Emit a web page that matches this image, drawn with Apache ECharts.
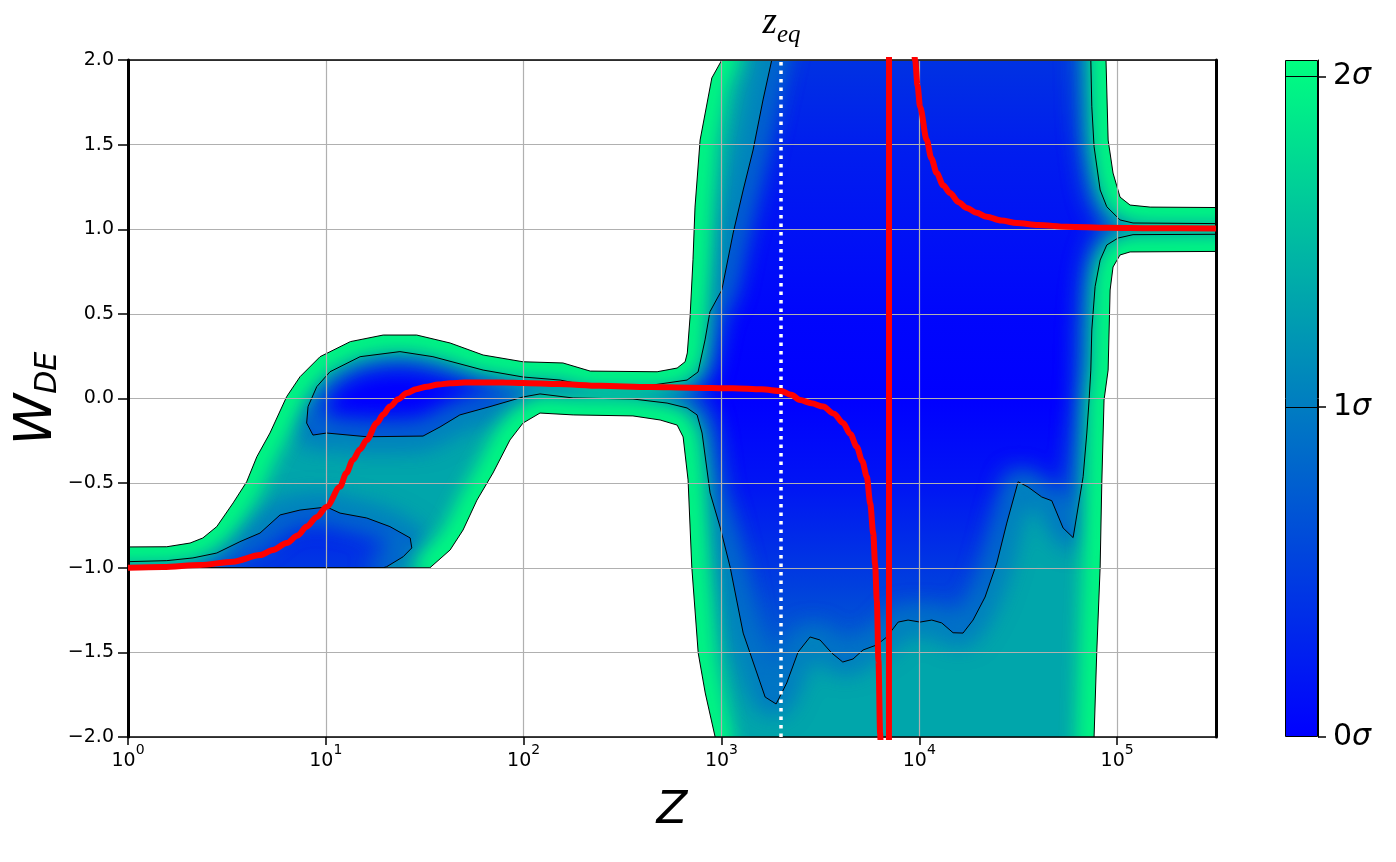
<!DOCTYPE html>
<html><head><meta charset="utf-8">
<script src="https://cdn.jsdelivr.net/npm/echarts@6/dist/echarts.min.js"></script>
<style>html,body{margin:0;padding:0;background:#fff}#c{width:1396px;height:862px}</style>
</head><body><div id="c"></div>
<script>
// ---------------- data ----------------
const xTickValues = [1, 10, 100, 1000, 10000, 100000];
const yTickStep = 0.5;
const colorbarTicks = [0, 1, 2];
const colorbarTop = 2.05;
const zEq = 2000;
const priorEdge = -1.0;

// best-fit w_DE(z)
const bestFit = [
  [1,-1.0],[1.5,-0.996],[2.31,-0.984],[3.40,-0.964],[4.65,-0.925],[5.4,-0.895],[6.34,-0.854],[7.2,-0.81],
  [8.0,-0.757],[9.0,-0.70],[10.1,-0.639],[11.8,-0.521],[12.7,-0.44],[13.7,-0.363],[14.9,-0.30],[16.1,-0.245],
  [18.1,-0.145],[19.5,-0.095],[21.1,-0.048],[23.2,-0.005],[25.7,0.032],[28.6,0.055],[32.4,0.070],[37,0.083],
  [42.5,0.090],[50,0.094],[60,0.095],[80,0.094],[99,0.092],[150,0.085],[243,0.075],[436,0.068],[700,0.064],
  [1145,0.060],[1600,0.054],[2000,0.044],[2250,0.022],[2497,-0.009],[2850,-0.028],[3265,-0.048],[3700,-0.09],
  [4120,-0.145],[4480,-0.21],[4830,-0.285],[5150,-0.37],[5430,-0.462],[5650,-0.62],[5850,-0.795],[5980,-0.98],
  [6100,-1.19],[6220,-1.55],[6340,-1.98],[6700,-4],[7000,-30],[7060,30],[8500,4],[9530,2.0],[9800,1.85],
  [10090,1.724],[10910,1.527],[11500,1.42],[12250,1.332],[13200,1.26],[14310,1.214],[15800,1.16],
  [17390,1.126],[19500,1.097],[21930,1.074],[26000,1.052],[31100,1.037],[40000,1.025],[55700,1.015],
  [90000,1.009],[150000,1.006],[316000,1.005]
];

// 2 sigma contour (closed)
const sigma2Outline = [
  [0.5,-1.0],[0.5,-0.877],[1,-0.877],[1.57,-0.876],[2.06,-0.854],[2.39,-0.824],[2.81,-0.757],
  [3.40,-0.617],[3.98,-0.492],[4.48,-0.344],[5.22,-0.204],[6.34,0.011],[7.41,0.129],[9.35,0.247],
  [13.3,0.336],[19.5,0.375],[28.8,0.375],[42.5,0.328],[62.4,0.257],[99.3,0.217],[158,0.210],
  [217,0.162],[473,0.158],[597,0.180],[655,0.217],[672,0.269],[694,0.482],[718,0.82],[735,1.131],
  [780,1.527],[894,1.894],[1004,2.0],[1040,2.4],[87700,2.4],[87900,2.0],[90100,1.527],[95400,1.332],
  [103500,1.190],[116300,1.143],[146900,1.131],[600000,1.126],[600000,0.871],[116300,0.866],
  [103500,0.848],[95400,0.777],[92200,0.641],[90100,0.168],[85900,-0.009],[83700,-0.499],
  [82100,-0.996],[78900,-1.504],[76500,-2.0],[76000,-2.4],[950,-2.4],[929,-2.0],[828,-1.74],
  [763,-1.504],[708,-0.996],[678,-0.481],[640,-0.227],[597,-0.157],[490,-0.127],[357,-0.103],
  [178,-0.097],[121,-0.086],[99.3,-0.145],[85.3,-0.245],[70,-0.440],[58.1,-0.600],[49.4,-0.777],
  [42.5,-0.895],[33.6,-1.0],[1,-1.0]
];

// 1 sigma contour, main region (closed)
const sigma1Main = [
  [2130,2.4],[1796,2.0],[1622,1.764],[1445,1.468],[1288,1.232],[1146,0.978],[1004,0.641],[875,0.513],
  [826,0.346],[762,0.157],[670,0.109],[451,0.080],[224,0.070],[153,0.109],[99.3,0.127],[62.4,0.168],
  [34.8,0.247],[23.7,0.277],[14.9,0.247],[10.5,0.158],[9.0,0.070],[8.13,-0.048],[8.0,-0.145],
  [8.61,-0.216],[10.1,-0.204],[16.1,-0.226],[31.0,-0.222],[37.8,-0.168],[47.6,-0.097],[67.6,-0.048],
  [99.3,0.009],[121,0.027],[178,0.003],[357,-0.003],[531,-0.027],[670,-0.056],[753,-0.097],
  [798,-0.204],[876,-0.558],[984,-0.759],[1106,-0.996],[1288,-1.386],[1663,-1.764],[1889,-1.805],
  [2138,-1.681],[2440,-1.498],[2805,-1.409],[3152,-1.427],[3612,-1.504],[4105,-1.557],[4626,-1.539],
  [5196,-1.486],[6098,-1.456],[6853,-1.409],[7818,-1.321],[8776,-1.309],[10090,-1.321],[11570,-1.309],
  [12990,-1.326],[14820,-1.384],[16640,-1.386],[18700,-1.309],[21510,-1.173],[24660,-0.972],
  [27690,-0.736],[31600,-0.492],[35490,-0.523],[41610,-0.582],[46750,-0.604],[53330,-0.765],
  [59940,-0.822],[67350,-0.462],[70300,-0.204],[72200,-0.009],[73650,0.168],[74500,0.405],
  [77400,0.661],[82100,0.818],[88700,0.907],[101100,0.948],[120400,0.968],[600000,0.972],
  [600000,1.031],[120400,1.037],[103500,1.055],[88700,1.133],[82100,1.232],[76500,1.488],
  [74500,1.724],[73650,2.0],[73300,2.4]
];

// 1 sigma contour, lower-left island (closed)
const sigma1Island = [
  [0.5,-0.964],[1,-0.964],[1.57,-0.958],[2.13,-0.942],[2.81,-0.913],[3.68,-0.846],[4.65,-0.795],
  [5.87,-0.688],[7.41,-0.659],[10.1,-0.641],[11.8,-0.677],[16.1,-0.706],[21.1,-0.757],[26.7,-0.824],
  [27.2,-0.883],[24.6,-0.935],[20.3,-0.994],[19.5,-1.0],[0.5,-1.0]
];

// ---------------- helpers ----------------
const FONT = 'DejaVu Sans';
const OFF = 4000; // draw glow shapes off-canvas, keep only their blurred shadow
function px(api, pts) { return pts.map(p => api.coord(p)); }
function offPrior(pts) {
  const n = pts.length, lines = [];
  let cur = [pts[0]];
  for (let i = 0; i < n; i++) {
    const a = pts[i], b = pts[(i + 1) % n];
    if (a[1] === priorEdge && b[1] === priorEdge) { if (cur.length > 1) lines.push(cur); cur = [b]; }
    else cur.push(b);
  }
  if (cur.length > 1) lines.push(cur);
  return lines;
}
function signedArea(p) { let s = 0; for (let i = 0; i < p.length; i++) { const a = p[i], b = p[(i + 1) % p.length]; s += a[0] * b[1] - b[0] * a[1]; } return s; }
function layer(z, data, draw, clip) {
  return { type: 'custom', coordinateSystem: 'cartesian2d', xAxisIndex: 0, yAxisIndex: 0, z: z,
    clip: clip !== false, silent: true, animation: false, data: data,
    renderItem: function (params, api) { return params.dataIndex === 0 ? draw(params, api) : null; } };
}
function blurLines(api, poly, color, width, blur, reps) {
  const out = [];
  for (let k = 0; k < reps; k++) {
    offPrior(poly).forEach(line => out.push({ type: 'polyline', x: OFF, shape: { points: px(api, line) },
      style: { stroke: color, fill: null, lineWidth: width, lineJoin: 'round', lineCap: 'round',
        shadowBlur: blur, shadowColor: color, shadowOffsetX: -OFF, shadowOffsetY: 0 } }));
  }
  return out;
}
function fmtX(v) {
  const l = Math.log10(v), e = Math.round(l);
  if (Math.abs(l - e) > 0.01) return '';
  return '{a|10}{b|' + e + '}';
}
function fmtY(v) { return v.toFixed(1).replace('-', '\u2212'); }

const chart = echarts.init(document.getElementById('c'), null, { renderer: 'canvas' });

const series = [
  // 2 sigma region base fill
  layer(1, sigma2Outline, (params, api) => ({
    type: 'polygon', shape: { points: px(api, sigma2Outline) }, style: { fill: 'rgb(0,166,171)' } })),
  // 1 sigma region fill + soft transition around its contour
  layer(2, sigma1Main, (params, api) => {
    const yT = api.coord([1, 2])[1], yB = api.coord([1, -2])[1];
    const grad = new echarts.graphic.LinearGradient(0, yT, 0, yB, [
      { offset: 0, color: 'rgb(0,50,226)' }, { offset: 0.125, color: 'rgb(0,30,238)' },
      { offset: 0.375, color: 'rgb(0,6,252)' }, { offset: 0.5, color: 'rgb(0,0,255)' },
      { offset: 0.625, color: 'rgb(0,20,244)' }, { offset: 0.75, color: 'rgb(0,55,226)' },
      { offset: 0.875, color: 'rgb(0,95,206)' }, { offset: 1, color: 'rgb(0,120,195)' }], true);
    const children = [];
    [sigma1Main, sigma1Island].forEach(poly => {
      children.push({ type: 'polygon', shape: { points: px(api, poly) }, style: { fill: grad } });
    });
    [sigma1Main, sigma1Island].forEach(poly => {
      children.push(...blurLines(api, poly, 'rgb(0,120,196)', 16, 26, 2));
    });
    return { type: 'group', children };
  }),
  // green rim inside the 2 sigma contour
  layer(3, sigma2Outline, (params, api) => ({ type: 'group', children:
    blurLines(api, sigma2Outline, 'rgb(0,250,128)', 23, 22, 2) })),
  // white outside the 2 sigma region
  layer(4, sigma2Outline, (params, api) => {
    const cs = params.coordSys, m = 400;
    const R = [[cs.x - m, cs.y - m], [cs.x + cs.width + m, cs.y - m], [cs.x + cs.width + m, cs.y + cs.height + m], [cs.x - m, cs.y + cs.height + m]];
    let H = px(api, sigma2Outline);
    if (Math.sign(signedArea(H)) === Math.sign(signedArea(R))) H = H.slice().reverse();
    const pts = R.concat([R[0]], H, [H[0], R[0]]);
    return { type: 'polygon', shape: { points: pts }, style: { fill: '#ffffff' } };
  }),
  // contour lines
  layer(5, sigma2Outline, (params, api) => ({
    type: 'group', children: [sigma2Outline, sigma1Main, sigma1Island].map(poly => ({
      type: 'polygon', shape: { points: px(api, poly) },
      style: { fill: null, stroke: '#000', lineWidth: 1, lineJoin: 'round' } })) })),
  // z_eq marker
  layer(7, [[zEq, 2]], (params, api) => {
    const top = api.coord([zEq, 2]), bot = api.coord([zEq, -2]);
    return { type: 'group', children: [
      { type: 'line', shape: { x1: bot[0], y1: bot[1], x2: top[0], y2: top[1] },
        style: { stroke: '#ffffff', lineWidth: 3.5, lineDash: [3.5, 5], lineCap: 'butt' } },
      { type: 'text', x: top[0] - 4, y: top[1] - 37,
        style: { text: 'z', font: 'italic 37px "Liberation Serif"', fill: '#000', align: 'right', textAlign: 'right', verticalAlign: 'middle', textVerticalAlign: 'middle' } },
      { type: 'text', x: top[0] - 4, y: top[1] - 25,
        style: { text: 'eq', font: 'italic 25px "Liberation Serif"', fill: '#000', align: 'left', textAlign: 'left', verticalAlign: 'middle', textVerticalAlign: 'middle' } }
    ] };
  }, false),
  // best fit line
  { type: 'line', xAxisIndex: 0, yAxisIndex: 0, data: bestFit, showSymbol: false, symbol: 'none',
    smooth: 0.3, smoothMonotone: 'x',
    lineStyle: { color: '#ff0000', width: 6 }, clip: true, z: 8, silent: true, animation: false },
  // colorbar
  { type: 'bar', xAxisIndex: 2, yAxisIndex: 2, data: [colorbarTop], barWidth: '100%', silent: true, animation: false,
    itemStyle: { color: new echarts.graphic.LinearGradient(0, 1, 0, 0, [{ offset: 0, color: '#0000ff' }, { offset: 1, color: '#00ff80' }]),
      borderColor: '#000', borderWidth: 1 },
    markLine: { silent: true, symbol: ['none', 'none'], animation: false, label: { show: false },
      lineStyle: { color: '#000', width: 1.2, type: 'solid' },
      data: colorbarTicks.filter(v => v > 0).map(v => ({ yAxis: v })) } }
];

const option = {
  animation: false,
  backgroundColor: '#ffffff',
  textStyle: { fontFamily: FONT },
  grid: [
    { left: 128, top: 60, width: 1088, height: 677, containLabel: false, outerBoundsMode: 'none' },
    { left: 1285, top: 60, width: 33, height: 677, containLabel: false, outerBoundsMode: 'none' }
  ],
  xAxis: [
    { type: 'log', logBase: 10, gridIndex: 0, min: 1, max: 316228, position: 'bottom', z: 6,
      name: 'Z', nameLocation: 'middle', nameGap: 52, nameMoveOverlap: false,
      nameTextStyle: { fontFamily: FONT, fontStyle: 'italic', fontSize: 45, color: '#000' },
      axisLine: { show: true, onZero: false, lineStyle: { color: '#000', width: 1.5 } },
      axisTick: { show: true, inside: false, length: 8, customValues: xTickValues, lineStyle: { color: '#000', width: 1.5 } },
      axisLabel: { show: true, margin: 6, customValues: xTickValues, formatter: fmtX, color: '#000',
        rich: { a: { fontFamily: FONT, fontSize: 19, color: '#000', lineHeight: 28, verticalAlign: 'bottom' },
                b: { fontFamily: FONT, fontSize: 14, color: '#000', lineHeight: 14, verticalAlign: 'top' } } },
      splitLine: { show: true, lineStyle: { color: '#b0b0b0', width: 1.2 } },
      minorTick: { show: false }, minorSplitLine: { show: false } },
    { type: 'log', logBase: 10, gridIndex: 0, min: 1, max: 316228, position: 'top', z: 6,
      axisLine: { show: true, onZero: false, lineStyle: { color: '#000', width: 1.5 } },
      axisTick: { show: false }, axisLabel: { show: false }, splitLine: { show: false } },
    { type: 'category', gridIndex: 1, data: ['cb'], show: false, boundaryGap: true }
  ],
  yAxis: [
    { type: 'value', gridIndex: 0, min: -2, max: 2, interval: yTickStep, position: 'left', z: 6,
      name: '{w|W}{d|DE}', nameLocation: 'middle', nameGap: 65, nameRotate: 90, nameMoveOverlap: false,
      nameTextStyle: { rich: {
        w: { fontFamily: FONT, fontStyle: 'italic', fontSize: 52, color: '#000', verticalAlign: 'bottom' },
        d: { fontFamily: FONT, fontStyle: 'italic', fontSize: 30, color: '#000', verticalAlign: 'bottom' } } },
      axisLine: { show: true, onZero: false, lineStyle: { color: '#000', width: 3 } },
      axisTick: { show: true, inside: false, length: 10, lineStyle: { color: '#000', width: 1.5 } },
      axisLabel: { show: true, margin: 14, fontFamily: FONT, fontSize: 19, color: '#000', formatter: fmtY },
      splitLine: { show: true, lineStyle: { color: '#b0b0b0', width: 1.2 } } },
    { type: 'value', gridIndex: 0, min: -2, max: 2, interval: yTickStep, position: 'right', z: 6,
      axisLine: { show: true, onZero: false, lineStyle: { color: '#000', width: 3 } },
      axisTick: { show: false }, axisLabel: { show: false }, splitLine: { show: false } },
    { type: 'value', gridIndex: 1, min: 0, max: colorbarTop, position: 'right', z: 6,
      axisLine: { show: true, onZero: false, lineStyle: { color: '#000', width: 1 } },
      axisTick: { show: true, inside: false, length: 8, customValues: colorbarTicks, lineStyle: { color: '#000', width: 1.5 } },
      axisLabel: { show: true, margin: 15, customValues: colorbarTicks, color: '#000',
        formatter: v => '{n|' + Math.round(v) + '}{s|\u03c3}',
        rich: { n: { fontFamily: FONT, fontSize: 30, color: '#000' },
                s: { fontFamily: FONT, fontStyle: 'italic', fontSize: 30, color: '#000' } } },
      splitLine: { show: false } }
  ],
  series: series
};
chart.setOption(option);
</script>
</body></html>
